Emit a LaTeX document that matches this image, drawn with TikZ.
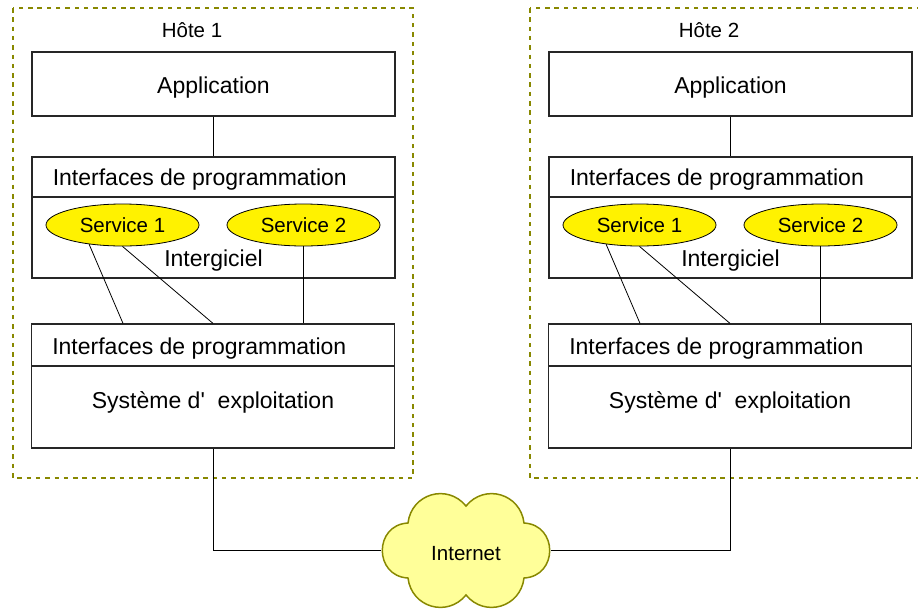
\documentclass[tikz,border=0pt]{standalone}
\usepackage{fontspec}
\newfontfamily\hostfont{Liberation Sans}
\usetikzlibrary{shapes.geometric,calc}
\definecolor{hostolive}{RGB}{136,136,0}
\definecolor{cloudfill}{RGB}{255,255,153}
\tikzset{
  bigtext/.style={font=\hostfont\fontsize{23}{27}\selectfont},
  smalltext/.style={font=\hostfont\fontsize{20.5}{24}\selectfont},
  every label/.style={bigtext, inner sep=0pt},
  hostframe/.style={draw=hostolive, line width=2pt, dash pattern=on 4.5pt off 4.8pt},
  hosttitle/.style={smalltext, anchor=base, inner sep=0pt},
  layer/.style={draw=black!85, line width=1.2pt, minimum width=363pt, inner sep=0pt, bigtext},
  apibox/.style={layer, minimum height=40pt, label={[anchor=base west, xshift=21pt, yshift=12pt]south west:Interfaces de programmation}},
  service/.style={ellipse, draw, fill=yellow, line width=0.8pt, minimum width=153pt, minimum height=42pt, inner sep=0pt, smalltext},
  netcloud/.style={ellipse, minimum width=169pt, minimum height=113pt, inner sep=0pt, text height=21pt, text depth=0pt, smalltext},
  cloudline/.style={draw=hostolive, fill=cloudfill, line width=1.5pt},
  puff/.style={bend right=67, looseness=1.25},
  sidepuff/.style={bend right=87, looseness=1.6}
}
\begin{document}
\begin{tikzpicture}[x=1pt, y=-1pt, line width=0.8pt]
  \clip (0,0) rectangle (918,608);
  \foreach \i/\dx in {1/0,2/517}{
    \begin{scope}[xshift=\dx pt]
      \draw[hostframe] (13,8) rectangle (413,478);
      \node[hosttitle] (hote\i) at (192,37) {Hôte \i};
      \node[layer, minimum height=64pt, label={[anchor=base, yshift=23pt]south:Application}] (app\i) at (213.5,84) {};
      \node[apibox] (mwapi\i) at (213.5,177) {};
      \node[layer, minimum height=81pt, label={[anchor=base, yshift=12pt]south:Intergiciel}] (mw\i) at (213.5,237.5) {};
      \node[service] (s\i1) at (122.5,225) {Service 1};
      \node[service] (s\i2) at (303.5,225) {Service 2};
      \node[apibox, minimum height=42pt] (osapi\i) at (213,345) {};
      \node[layer, minimum height=82pt, label={[anchor=base, yshift=40pt]south:Système d'~~exploitation}] (os\i) at (213,407) {};
      \draw (app\i) -- (mwapi\i);
      \draw (s\i1.210) -- ($(osapi\i.north)+(-90,0)$);
      \draw (s\i1.south) -- (osapi\i.north);
      \draw (s\i2.south) -- (s\i2.south |- osapi\i.north);
    \end{scope}
  }
  \path[cloudline] (466,506) to[puff] (408,523) to[sidepuff] (408,578)
    to[puff] (466,595) to[puff] (524,578) to[sidepuff] (524,523)
    to[puff] (466,506) -- cycle;
  \node[netcloud] (net) at (466,550) {Internet};
  \draw (os1.south) |- (net.west);
  \draw (net.east) -| (os2.south);
\end{tikzpicture}
\end{document}
